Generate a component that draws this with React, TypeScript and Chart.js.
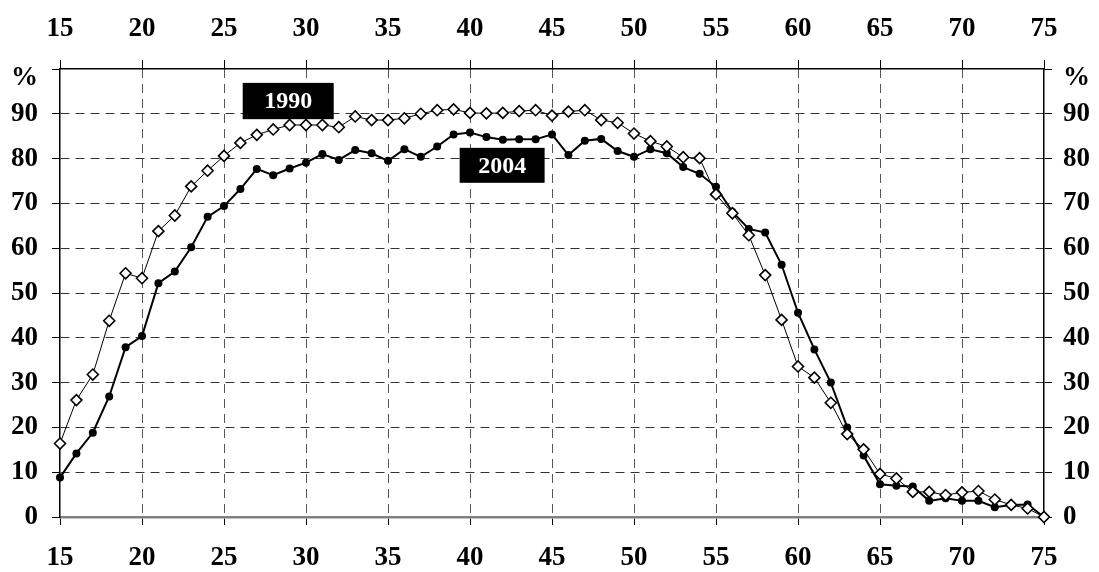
import React, { useEffect, useRef } from "react";
import { Chart, registerables } from "chart.js";

Chart.register(...registerables);

const ages: number[] = [
  15, 16, 17, 18, 19, 20, 21, 22, 23, 24, 25, 26, 27, 28, 29, 30, 31, 32, 33, 34, 35,
  36, 37, 38, 39, 40, 41, 42, 43, 44, 45, 46, 47, 48, 49, 50, 51, 52, 53, 54, 55,
  56, 57, 58, 59, 60, 61, 62, 63, 64, 65, 66, 67, 68, 69, 70, 71, 72, 73, 74, 75,
];

const values1990: number[] = [
  16.4, 26.1, 31.8, 43.8, 54.4, 53.3, 63.8, 67.3, 73.8, 77.3, 80.6, 83.5, 85.3, 86.5, 87.5, 87.5,
  87.5, 87.0, 89.4, 88.6, 88.6, 89.0, 90.0, 90.8, 91.0, 90.2, 90.1, 90.2, 90.6, 90.8, 89.6,
  90.5, 90.8, 88.6, 88.0, 85.6, 83.9, 82.7, 80.3, 80.1, 72.0, 67.8, 62.9, 54.0, 44.0, 33.6,
  31.1, 25.5, 18.5, 15.1, 9.6, 8.6, 5.6, 5.6, 4.9, 5.5, 5.8, 3.9, 2.7, 1.9, 0,
];

const values2004: number[] = [
  8.8, 14.2, 18.8, 26.9, 37.9, 40.4, 52.2, 54.8, 60.2, 67.0, 69.4, 73.2, 77.7, 76.3, 77.8, 79.1,
  81.0, 79.7, 81.9, 81.2, 79.5, 82.1, 80.4, 82.7, 85.4, 85.8, 84.8, 84.2, 84.3, 84.3, 85.4,
  80.8, 84.0, 84.4, 81.7, 80.4, 82.1, 81.2, 78.1, 76.6, 73.7, 68.1, 64.3, 63.5, 56.3, 45.6,
  37.4, 30.0, 20.0, 13.7, 7.3, 7.0, 6.8, 3.6, 4.2, 3.6, 3.6, 2.2, 2.7, 2.8, 0,
];

const seriesNames: string[] = ["1990", "2004"];
const xTickMin = 15;
const xTickMax = 75;
const xTickStep = 5;
const yTickMin = 0;
const yTickMax = 100;
const yTickStep = 10;
const yUnitLabel = "%";

const FONT_FAMILY = "'Liberation Serif', 'Times New Roman', serif";
const tickFont = { family: FONT_FAMILY, size: 27, weight: "bold" as const };
const H_GRID_COLOR = "#333333";
const V_GRID_COLOR = "#555555";

// label boxes, given in data coordinates
const boxes = [
  { text: seriesNames[0], x0: 26.14, x1: 31.69, y0: 96.9, y1: 88.8 },
  { text: seriesNames[1], x0: 39.37, x1: 44.55, y0: 82.4, y1: 74.6 },
];

const overlayPlugin = {
  id: "overlay",
  afterDatasetsDraw(chart: any) {
    const { ctx } = chart;
    const xs = chart.scales.x;
    const ys = chart.scales.y;
    ctx.save();
    for (const b of boxes) {
      const left = xs.getPixelForValue(b.x0);
      const right = xs.getPixelForValue(b.x1);
      const top = ys.getPixelForValue(b.y0);
      const bottom = ys.getPixelForValue(b.y1);
      ctx.fillStyle = "#000";
      ctx.fillRect(left, top, right - left, bottom - top);
      ctx.fillStyle = "#fff";
      ctx.font = `bold 24px ${FONT_FAMILY}`;
      ctx.textAlign = "center";
      ctx.textBaseline = "middle";
      ctx.fillText(b.text, (left + right) / 2, (top + bottom) / 2 + 1);
    }
    ctx.restore();
  },
  afterDraw(chart: any) {
    const { ctx, chartArea } = chart;
    ctx.save();
    ctx.fillStyle = "#000";
    ctx.font = `bold 27px ${FONT_FAMILY}`;
    ctx.textBaseline = "middle";
    ctx.textAlign = "right";
    ctx.fillText(yUnitLabel, chartArea.left - 22, chartArea.top + 9);
    ctx.textAlign = "left";
    ctx.fillText(yUnitLabel, chartArea.right + 19, chartArea.top + 9);
    ctx.restore();
  },
};

export default function App() {
  const ref = useRef<HTMLCanvasElement | null>(null);

  useEffect(() => {
    if (!ref.current) return;
    const xGridColor = (c: any) =>
      c.tick && (c.tick.value === xTickMin || c.tick.value === xTickMax) ? "rgba(0,0,0,0)" : V_GRID_COLOR;
    const yGridColor = (c: any) =>
      c.tick && (c.tick.value === yTickMin || c.tick.value === yTickMax) ? "rgba(0,0,0,0)" : H_GRID_COLOR;

    const xTicks = {
      stepSize: xTickStep,
      color: "#000",
      font: tickFont,
      maxRotation: 0,
      autoSkip: false,
    };
    const yTicks = {
      stepSize: yTickStep,
      color: "#000",
      font: tickFont,
      callback: (v: any) => (v === yTickMax ? "" : String(v)),
    };

    const chart = new Chart(ref.current, {
      type: "line",
      data: {
        datasets: [
          {
            label: seriesNames[0],
            data: ages.map((a, i) => ({ x: a, y: values1990[i] })),
            borderColor: "#000",
            borderWidth: 1,
            pointStyle: "rectRot",
            pointRadius: 5.5,
            pointBorderWidth: 1.6,
            pointBackgroundColor: "#fff",
            pointBorderColor: "#000",
            tension: 0,
            clip: false as any,
          },
          {
            label: seriesNames[1],
            data: ages.map((a, i) => ({ x: a, y: values2004[i] })),
            borderColor: "#000",
            borderWidth: 2,
            pointStyle: "circle",
            pointRadius: 4,
            pointBorderWidth: 0,
            pointBackgroundColor: "#000",
            pointBorderColor: "#000",
            tension: 0,
            clip: false as any,
          },
        ],
      },
      options: {
        animation: false,
        responsive: false,
        maintainAspectRatio: false,
        layout: { padding: 0 },
        plugins: {
          legend: { display: false },
          tooltip: { enabled: false },
        },
        scales: {
          x: {
            type: "linear",
            position: "bottom",
            min: xTickMin,
            max: xTickMax,
            ticks: { ...xTicks, padding: 17 },
            grid: { color: xGridColor, tickColor: "#000", tickLength: 8, lineWidth: 1 },
            border: { display: true, color: "#808080", width: 2.5, dash: [9, 6] },
            afterFit: (s: any) => {
              s.height = 55;
            },
          },
          x2: {
            type: "linear",
            position: "top",
            min: xTickMin,
            max: xTickMax,
            ticks: { ...xTicks, padding: 15 },
            grid: { drawOnChartArea: false, tickColor: "#000", tickLength: 9, lineWidth: 1 },
            border: { display: true, color: "#000", width: 1.5 },
            afterFit: (s: any) => {
              s.height = 69;
            },
          },
          y: {
            type: "linear",
            position: "left",
            min: yTickMin,
            max: yTickMax,
            ticks: { ...yTicks, padding: 14 },
            grid: { color: yGridColor, tickColor: "#000", tickLength: 8, lineWidth: 1 },
            border: { display: true, color: "#000", width: 1.5, dash: [9, 6] },
            afterFit: (s: any) => {
              s.width = 60;
            },
          },
          y2: {
            type: "linear",
            position: "right",
            min: yTickMin,
            max: yTickMax,
            ticks: { ...yTicks, padding: 11 },
            grid: { drawOnChartArea: false, tickColor: "#000", tickLength: 8, lineWidth: 1 },
            border: { display: true, color: "#000", width: 1.5 },
            afterFit: (s: any) => {
              s.width = 55;
            },
          },
        },
      } as any,
      plugins: [overlayPlugin],
    });
    return () => chart.destroy();
  }, []);

  return (
    <canvas
      ref={ref}
      width={1099}
      height={572}
      style={{ position: "fixed", left: 0, top: 0, width: 1099, height: 572, display: "block", background: "#fff" }}
    />
  );
}
